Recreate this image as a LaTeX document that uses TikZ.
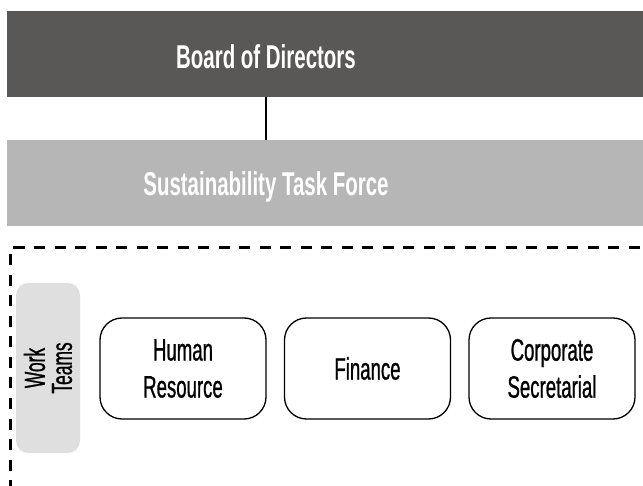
\documentclass[tikz,border=0pt]{standalone}
\usepackage{fontspec}
\setmainfont{Liberation Sans}[FakeStretch=0.62]
\newfontfamily\unitfont{Liberation Sans}[FakeStretch=0.6,FakeBold=0.8]
\usetikzlibrary{positioning}
\definecolor{boardgray}{HTML}{5A5856}
\definecolor{taskgray}{HTML}{B5B6B5}
\definecolor{teamgray}{HTML}{DEDFDE}
\begin{document}
\begin{tikzpicture}[x=1pt,y=-1pt,
  band/.style={draw=none,rectangle,inner sep=0pt,anchor=north west},
  bandtext/.style={text=white,font=\fontsize{33}{38}\selectfont\bfseries,inner sep=0pt},
  unitbox/.style={draw=black,line width=1.3pt,rounded corners=22pt,minimum width=166pt,minimum height=101pt,
    align=center,font=\unitfont\fontsize{31}{37}\selectfont,inner sep=0pt},
  teambox/.style={fill=teamgray,draw=none,rounded corners=12pt,minimum width=64pt,minimum height=170pt,inner sep=0pt},
  groupline/.style={line width=3pt,dash pattern=on 11pt off 9.5pt}
]
\useasboundingbox (0,0) rectangle (643,486);
\begin{scope}
\clip (0,0) rectangle (643,486);
% top bands
\node[band,fill=boardgray,minimum width=700pt,minimum height=86pt] (board) at (7,11) {};
\node[band,fill=taskgray,minimum width=700pt,minimum height=86pt] (task) at (7,140) {};
\node[bandtext] (boardtext) at (266,57) {Board of Directors};
\node[bandtext] (tasktext) at (266,187) {Sustainability Task Force};
\draw[line width=2pt] (boardtext |- board.south) -- (tasktext |- task.north);
% dashed group outline
\coordinate (gtr) at (660,248);
\coordinate (gtl) at (10.5,248);
\coordinate (gbl) at (10.5,500);
\draw[groupline] (gtr) -- (gtl) -- (gbl);
% work teams
\node[teambox] (team) at (48,368) {};
\node[rotate=90,align=center,font=\unitfont\fontsize{29}{27}\selectfont,inner sep=0pt] (teamtext) at (team.center) {Work\\Teams};
\node[unitbox] (hr) at (183,368.5) {Human\\Resource};
\node[unitbox] (fin) at (367.5,368.5) {Finance};
\node[unitbox] (cs) at (552,368.5) {Corporate\\Secretarial};
\end{scope}
\end{tikzpicture}
\end{document}
